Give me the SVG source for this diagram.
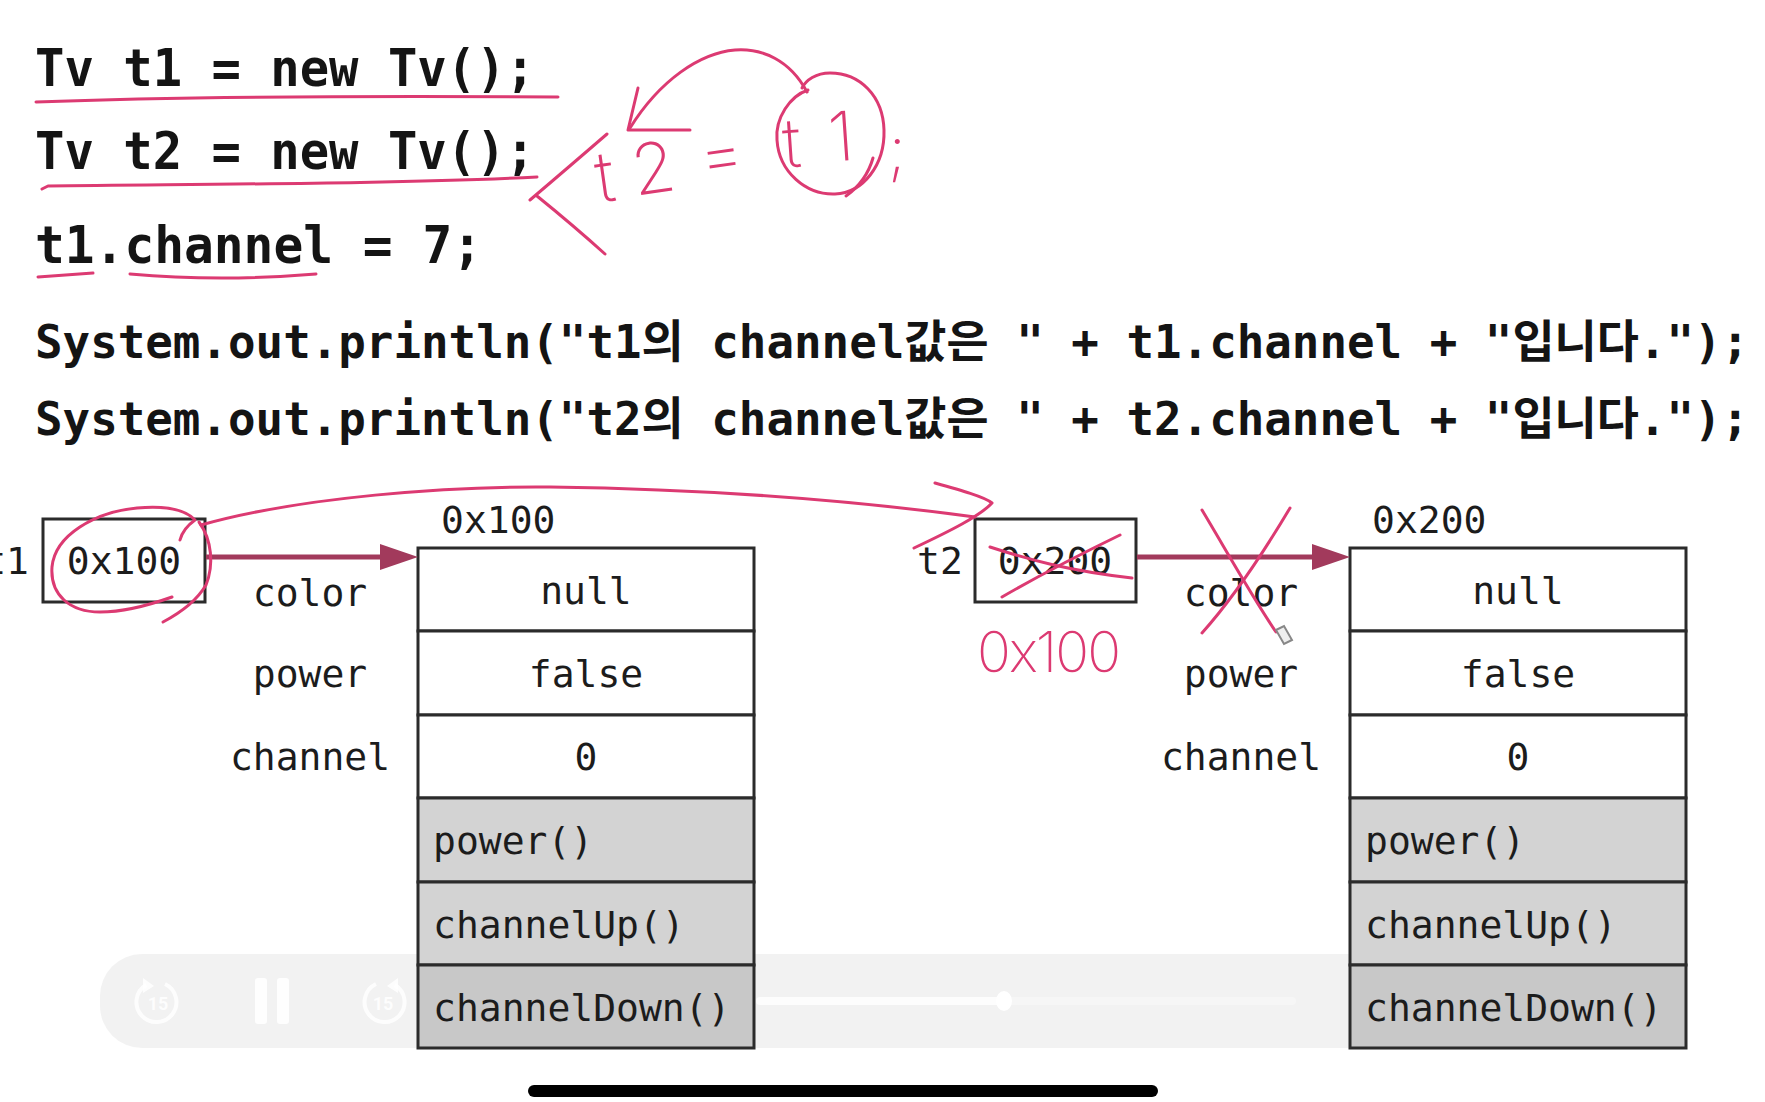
<svg xmlns="http://www.w3.org/2000/svg" width="1765" height="1102" viewBox="0 0 1765 1102">
<defs>
<style>
.code{font-family:"DejaVu Sans Mono","Noto Sans CJK KR",monospace;font-weight:bold;fill:#141414}
.mono{font-family:"DejaVu Sans Mono","Liberation Mono",monospace;font-size:38px;fill:#1c1c1c}
.mid{text-anchor:middle}
.cell{fill:#ffffff;stroke:#2b2b2b;stroke-width:3}
.mcell{fill:#d3d3d3;stroke:#2b2b2b;stroke-width:3}
.mcell2{fill:#c8c8c8;stroke:#2b2b2b;stroke-width:3}
.box{fill:#ffffff;stroke:#2b2b2b;stroke-width:3}
.ref{stroke:#a23a5c;stroke-width:5;fill:none}
.hw{fill:none;stroke:#dc3a72;stroke-width:3;stroke-linecap:round;stroke-linejoin:round}
.hwt{font-family:Inter,"Noto Sans",sans-serif;font-weight:200;fill:#dc3a72}
.icon{fill:none;stroke:#ffffff;stroke-width:4;opacity:0.85}
</style>
<marker id="head" markerUnits="userSpaceOnUse" markerWidth="38" markerHeight="26" refX="20" refY="13" orient="auto">
<path d="M0,0 L38,13 L0,26 Z" fill="#a23a5c"/>
</marker>
</defs>
<rect x="0" y="0" width="1765" height="1102" fill="#ffffff"/>

<g id="code">
<text class="code" x="35" y="86" font-size="52" textLength="500" lengthAdjust="spacingAndGlyphs">Tv t1 = new Tv();</text>
<text class="code" x="35" y="169" font-size="52" textLength="500" lengthAdjust="spacingAndGlyphs">Tv t2 = new Tv();</text>
<text class="code" x="35" y="263" font-size="52" textLength="447" lengthAdjust="spacingAndGlyphs">t1.channel = 7;</text>
<text class="code" x="35" y="358" font-size="45.8">System.out.println("t1의 channel값은 " + t1.channel + "입니다.");</text>
<text class="code" x="35" y="435" font-size="45.8">System.out.println("t2의 channel값은 " + t2.channel + "입니다.");</text>
</g>

<g id="player">
<rect x="100" y="954" width="1487" height="94" rx="42" fill="#dcdcdc" opacity="0.38"/>
<path class="icon" d="M146,985 A20,20 0 1 0 165,984"/>
<path d="M143,978 L154,986 L143,993 Z" fill="#ffffff" opacity="0.85"/>
<text x="158" y="1010" font-family="Roboto,'Liberation Sans',sans-serif" font-size="18" font-weight="bold" fill="#ffffff" opacity="0.85" text-anchor="middle">15</text>
<rect x="255" y="978" width="12" height="46" rx="3" fill="#ffffff" opacity="0.9"/>
<rect x="277" y="978" width="12" height="46" rx="3" fill="#ffffff" opacity="0.9"/>
<path class="icon" d="M395,985 A20,20 0 1 1 376,984"/>
<path d="M398,978 L387,986 L398,993 Z" fill="#ffffff" opacity="0.85"/>
<text x="383" y="1010" font-family="Roboto,'Liberation Sans',sans-serif" font-size="18" font-weight="bold" fill="#ffffff" opacity="0.85" text-anchor="middle">15</text>
<rect x="756" y="997" width="248" height="8" rx="4" fill="#ffffff" opacity="0.8"/>
<rect x="1004" y="997" width="292" height="8" rx="4" fill="#ffffff" opacity="0.35"/>
<ellipse cx="1004" cy="1001" rx="8" ry="10" fill="#ffffff"/>
</g>

<g id="node-t1">
<text class="mono" x="29" y="574" text-anchor="end">t1</text>
<rect class="box" x="43" y="519" width="162" height="83"/>
<text class="mono mid" x="124" y="574">0x100</text>
</g>

<g id="node-obj1">
<text class="mono" x="441" y="533">0x100</text>
<text class="mono mid" x="310" y="606">color</text>
<text class="mono mid" x="310" y="687">power</text>
<text class="mono mid" x="310" y="770">channel</text>
<rect class="cell" x="418" y="548" width="336" height="83"/>
<rect class="cell" x="418" y="631" width="336" height="84"/>
<rect class="cell" x="418" y="715" width="336" height="83"/>
<rect class="mcell" x="418" y="798" width="336" height="84"/>
<rect class="mcell" x="418" y="882" width="336" height="83"/>
<rect class="mcell2" x="418" y="965" width="336" height="83"/>
<text class="mono mid" x="586" y="604">null</text>
<text class="mono mid" x="586" y="687">false</text>
<text class="mono mid" x="586" y="770">0</text>
<text class="mono" x="433" y="854">power()</text>
<text class="mono" x="433" y="938">channelUp()</text>
<text class="mono" x="433" y="1021">channelDown()</text>
</g>

<g id="node-t2">
<text class="mono" x="917" y="574">t2</text>
<rect class="box" x="975" y="519" width="161" height="83"/>
<text class="mono mid" x="1055" y="574">0x200</text>
</g>

<g id="node-obj2">
<text class="mono" x="1372" y="533">0x200</text>
<text class="mono mid" x="1241" y="606">color</text>
<text class="mono mid" x="1241" y="687">power</text>
<text class="mono mid" x="1241" y="770">channel</text>
<rect class="cell" x="1350" y="548" width="336" height="83"/>
<rect class="cell" x="1350" y="631" width="336" height="84"/>
<rect class="cell" x="1350" y="715" width="336" height="83"/>
<rect class="mcell" x="1350" y="798" width="336" height="84"/>
<rect class="mcell" x="1350" y="882" width="336" height="83"/>
<rect class="mcell2" x="1350" y="965" width="336" height="83"/>
<text class="mono mid" x="1518" y="604">null</text>
<text class="mono mid" x="1518" y="687">false</text>
<text class="mono mid" x="1518" y="770">0</text>
<text class="mono" x="1365" y="854">power()</text>
<text class="mono" x="1365" y="938">channelUp()</text>
<text class="mono" x="1365" y="1021">channelDown()</text>
</g>

<g id="connectors">
<line class="ref" x1="206" y1="557" x2="400" y2="557" marker-end="url(#head)"/>
<line class="ref" x1="1137" y1="557" x2="1332" y2="557" marker-end="url(#head)"/>
</g>

<g id="annotations">
<path class="hw" d="M36,102 C200,96 400,96 558,97"/>
<path class="hw" d="M42,189 L48,186 C200,184 400,184 537,177"/>
<path class="hw" d="M38,277 L93,273" stroke-width="5"/>
<path class="hw" d="M130,274 Q220,282 316,274"/>
<path class="hw" d="M607,134 Q570,166 530,200 M537,196 Q574,226 605,254"/>
<text class="hwt" font-size="70" transform="rotate(-8 598 203)"><tspan x="599" y="203">t</tspan><tspan x="636" y="201">2</tspan><tspan x="704" y="196">=</tspan></text>
<path class="hw" d="M808,90 C790,96 775,118 777,140 C779,172 806,195 835,194 C863,193 885,165 884,130 C883,96 860,73 830,73 C816,73 806,80 802,88"/>
<path class="hw" d="M846,196 C860,186 869,172 873,158"/>
<text class="hwt" font-size="68" transform="rotate(-4 781 166)"><tspan x="784" y="168">t</tspan><tspan x="830" y="165">1</tspan></text>
<text class="hwt" x="888" y="172" font-size="64">;</text>
<path class="hw" d="M807,92 C790,60 762,48 735,50 C700,53 660,80 630,128"/>
<path class="hw" d="M638,88 L628,130 L690,130"/>
<path class="hw" d="M180,540 C182,532 188,525 195,520 C184,508 160,506 137,508 C95,512 55,535 52,567 C50,595 70,612 100,612 C130,612 158,602 172,597"/>
<path class="hw" d="M199,522 C212,540 214,565 206,585 C196,602 180,613 163,622"/>
<path class="hw" d="M201,525 C300,497 450,486 550,487 C700,489 850,500 975,517"/>
<path class="hw" d="M935,483 C960,490 985,497 992,503 C980,516 950,531 914,548"/>
<path class="hw" d="M1002,597 C1040,575 1085,552 1120,535"/>
<path class="hw" d="M990,547 C1030,560 1070,571 1132,578"/>
<text class="hwt" x="977" y="672" font-size="56" textLength="144" lengthAdjust="spacing">0x100</text>
<path class="hw" d="M1202,510 C1226,550 1251,595 1276,632"/>
<path class="hw" d="M1290,508 C1265,550 1236,595 1202,633"/>
<path d="M1276,630 L1284,626 L1292,640 L1284,644 Z" fill="#eeeeee" stroke="#888888" stroke-width="2"/>
</g>

<rect id="home-indicator" x="528" y="1085" width="630" height="12" rx="6" fill="#000000"/>
</svg>
